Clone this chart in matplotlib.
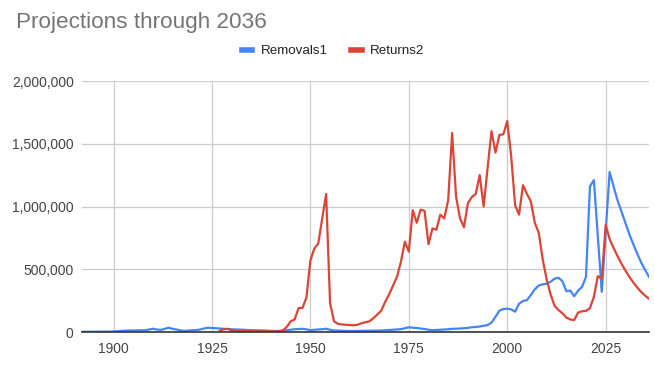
import numpy as np
import matplotlib
matplotlib.use("Agg")
import matplotlib.pyplot as plt
from matplotlib.ticker import FuncFormatter

plt.rcParams['font.family'] = ['Liberation Sans', 'DejaVu Sans']

years = list(range(1892, 2037))

removals = [
    2000, 2000, 2000, 2500, 2500, 3000, 3000, 3000,                 # 1892-1899
    4000, 6000, 9000, 11000, 12000, 12000, 13000, 14000, 13000, 20000,  # 1900s
    26000, 20000, 17000, 25000, 34000, 25000, 20000, 13000, 9000, 11000,  # 1910s
    14000, 15000, 20000, 28000, 34000, 32000, 30000, 28000, 25000, 24000,  # 1920s
    22000, 20000, 19000, 18000, 16000, 14000, 14000, 13000, 12000, 11000,  # 1930s
    9000, 8000, 9000, 11000, 14000, 18000, 22000, 24000, 25000, 22000,  # 1940s
    13000, 18000, 20000, 22000, 26000, 18000, 12000, 11000, 10000, 9000,  # 1950s
    8000, 8000, 9000, 9000, 10000, 10000, 11000, 11000, 12000, 14000,  # 1960s
    16000, 18000, 20000, 23000, 30000, 38000, 34000, 32000, 28000, 24000,  # 1970s
    18000, 15000, 16000, 18000, 20000, 22000, 25000, 26000, 28000, 30000,  # 1980s
    33000, 38000, 40000, 44000, 50000, 55000, 75000, 120000, 170000, 183000,  # 1990s
    186000, 180000, 162000, 225000, 247000, 254000, 295000, 340000, 370000, 380000,  # 2000s
    385000, 400000, 425000, 432000, 405000, 325000, 330000, 285000, 330000, 360000,  # 2010s
    440000, 1160000, 1210000, 760000, 320000, 800000, 1275000, 1160000, 1050000, 960000,  # 2020s
    870000, 780000, 700000, 625000, 555000, 495000, 440000,          # 2030-2036
]

returns = [np.nan] * (1927 - 1892) + [
    10000, 22000, 25000,                                             # 1927-1929
    12000, 10000, 8000, 7000, 6000, 6000, 6000, 6000, 5000, 5000,    # 1930s
    5000, 5000, 6000, 12000, 40000, 85000, 100000, 190000, 192000, 275000,  # 1940s
    570000, 665000, 705000, 900000, 1100000, 230000, 85000, 65000, 60000, 58000,  # 1950s
    55000, 54000, 58000, 70000, 78000, 85000, 110000, 140000, 170000, 240000,  # 1960s
    300000, 370000, 440000, 560000, 720000, 640000, 970000, 870000, 975000, 965000,  # 1970s
    700000, 825000, 815000, 935000, 905000, 1050000, 1585000, 1080000, 905000, 835000,  # 1980s
    1025000, 1075000, 1100000, 1250000, 1000000, 1305000, 1600000, 1430000, 1570000, 1575000,  # 1990s
    1680000, 1400000, 1010000, 935000, 1170000, 1100000, 1040000, 870000, 790000, 580000,  # 2000s
    420000, 300000, 210000, 175000, 150000, 115000, 100000, 95000, 155000, 165000,  # 2010s
    168000, 190000, 280000, 445000, 425000, 855000, 740000, 670000, 605000, 545000,  # 2020s
    490000, 440000, 395000, 355000, 320000, 290000, 265000,          # 2030-2036
]

series_names = ['Removals1', 'Returns2']
x_ticks = [1900, 1925, 1950, 1975, 2000, 2025]
y_ticks = [0, 500000, 1000000, 1500000, 2000000]

fig = plt.figure(figsize=(6.55, 3.67), dpi=100)
ax = fig.add_axes([82 / 655, 1 - 332 / 367, 567 / 655, 251 / 367])

ax.plot(years, removals, color='#4285F4', lw=1.6, label=series_names[0], zorder=3)
ax.plot(years, returns, color='#DB4437', lw=1.6, label=series_names[1], zorder=4)

ax.set_xlim(1892, 2036)
ax.set_ylim(0, 2000000)
ax.set_xticks(x_ticks)
ax.set_yticks(y_ticks)
ax.yaxis.set_major_formatter(FuncFormatter(lambda v, p: f'{int(v):,}'))
ax.grid(True, color='#cccccc', lw=0.9, zorder=0)
for s in ['top', 'right', 'left']:
    ax.spines[s].set_visible(False)
ax.spines['bottom'].set_color('#333333')
ax.spines['bottom'].set_linewidth(1.2)
ax.spines['bottom'].set_zorder(5)
ax.tick_params(length=0, labelsize=10, labelcolor='#444444')
ax.tick_params(axis='x', pad=7)
ax.tick_params(axis='y', pad=6)

fig.text(16 / 655, 1 - 28 / 367, 'Projections through 2036', fontsize=16.2,
         color='#757575', ha='left', va='baseline')

leg = fig.legend(loc='center', bbox_to_anchor=(333 / 655, 1 - 51 / 367), ncol=2,
                 frameon=False, fontsize=9.6, handlelength=0.8, handleheight=0.5,
                 columnspacing=1.8, handletextpad=0.6)
for h in leg.legend_handles:
    h.set_linewidth(4)
for t in leg.get_texts():
    t.set_color('#222222')

fig.savefig('out.png', dpi=100)
